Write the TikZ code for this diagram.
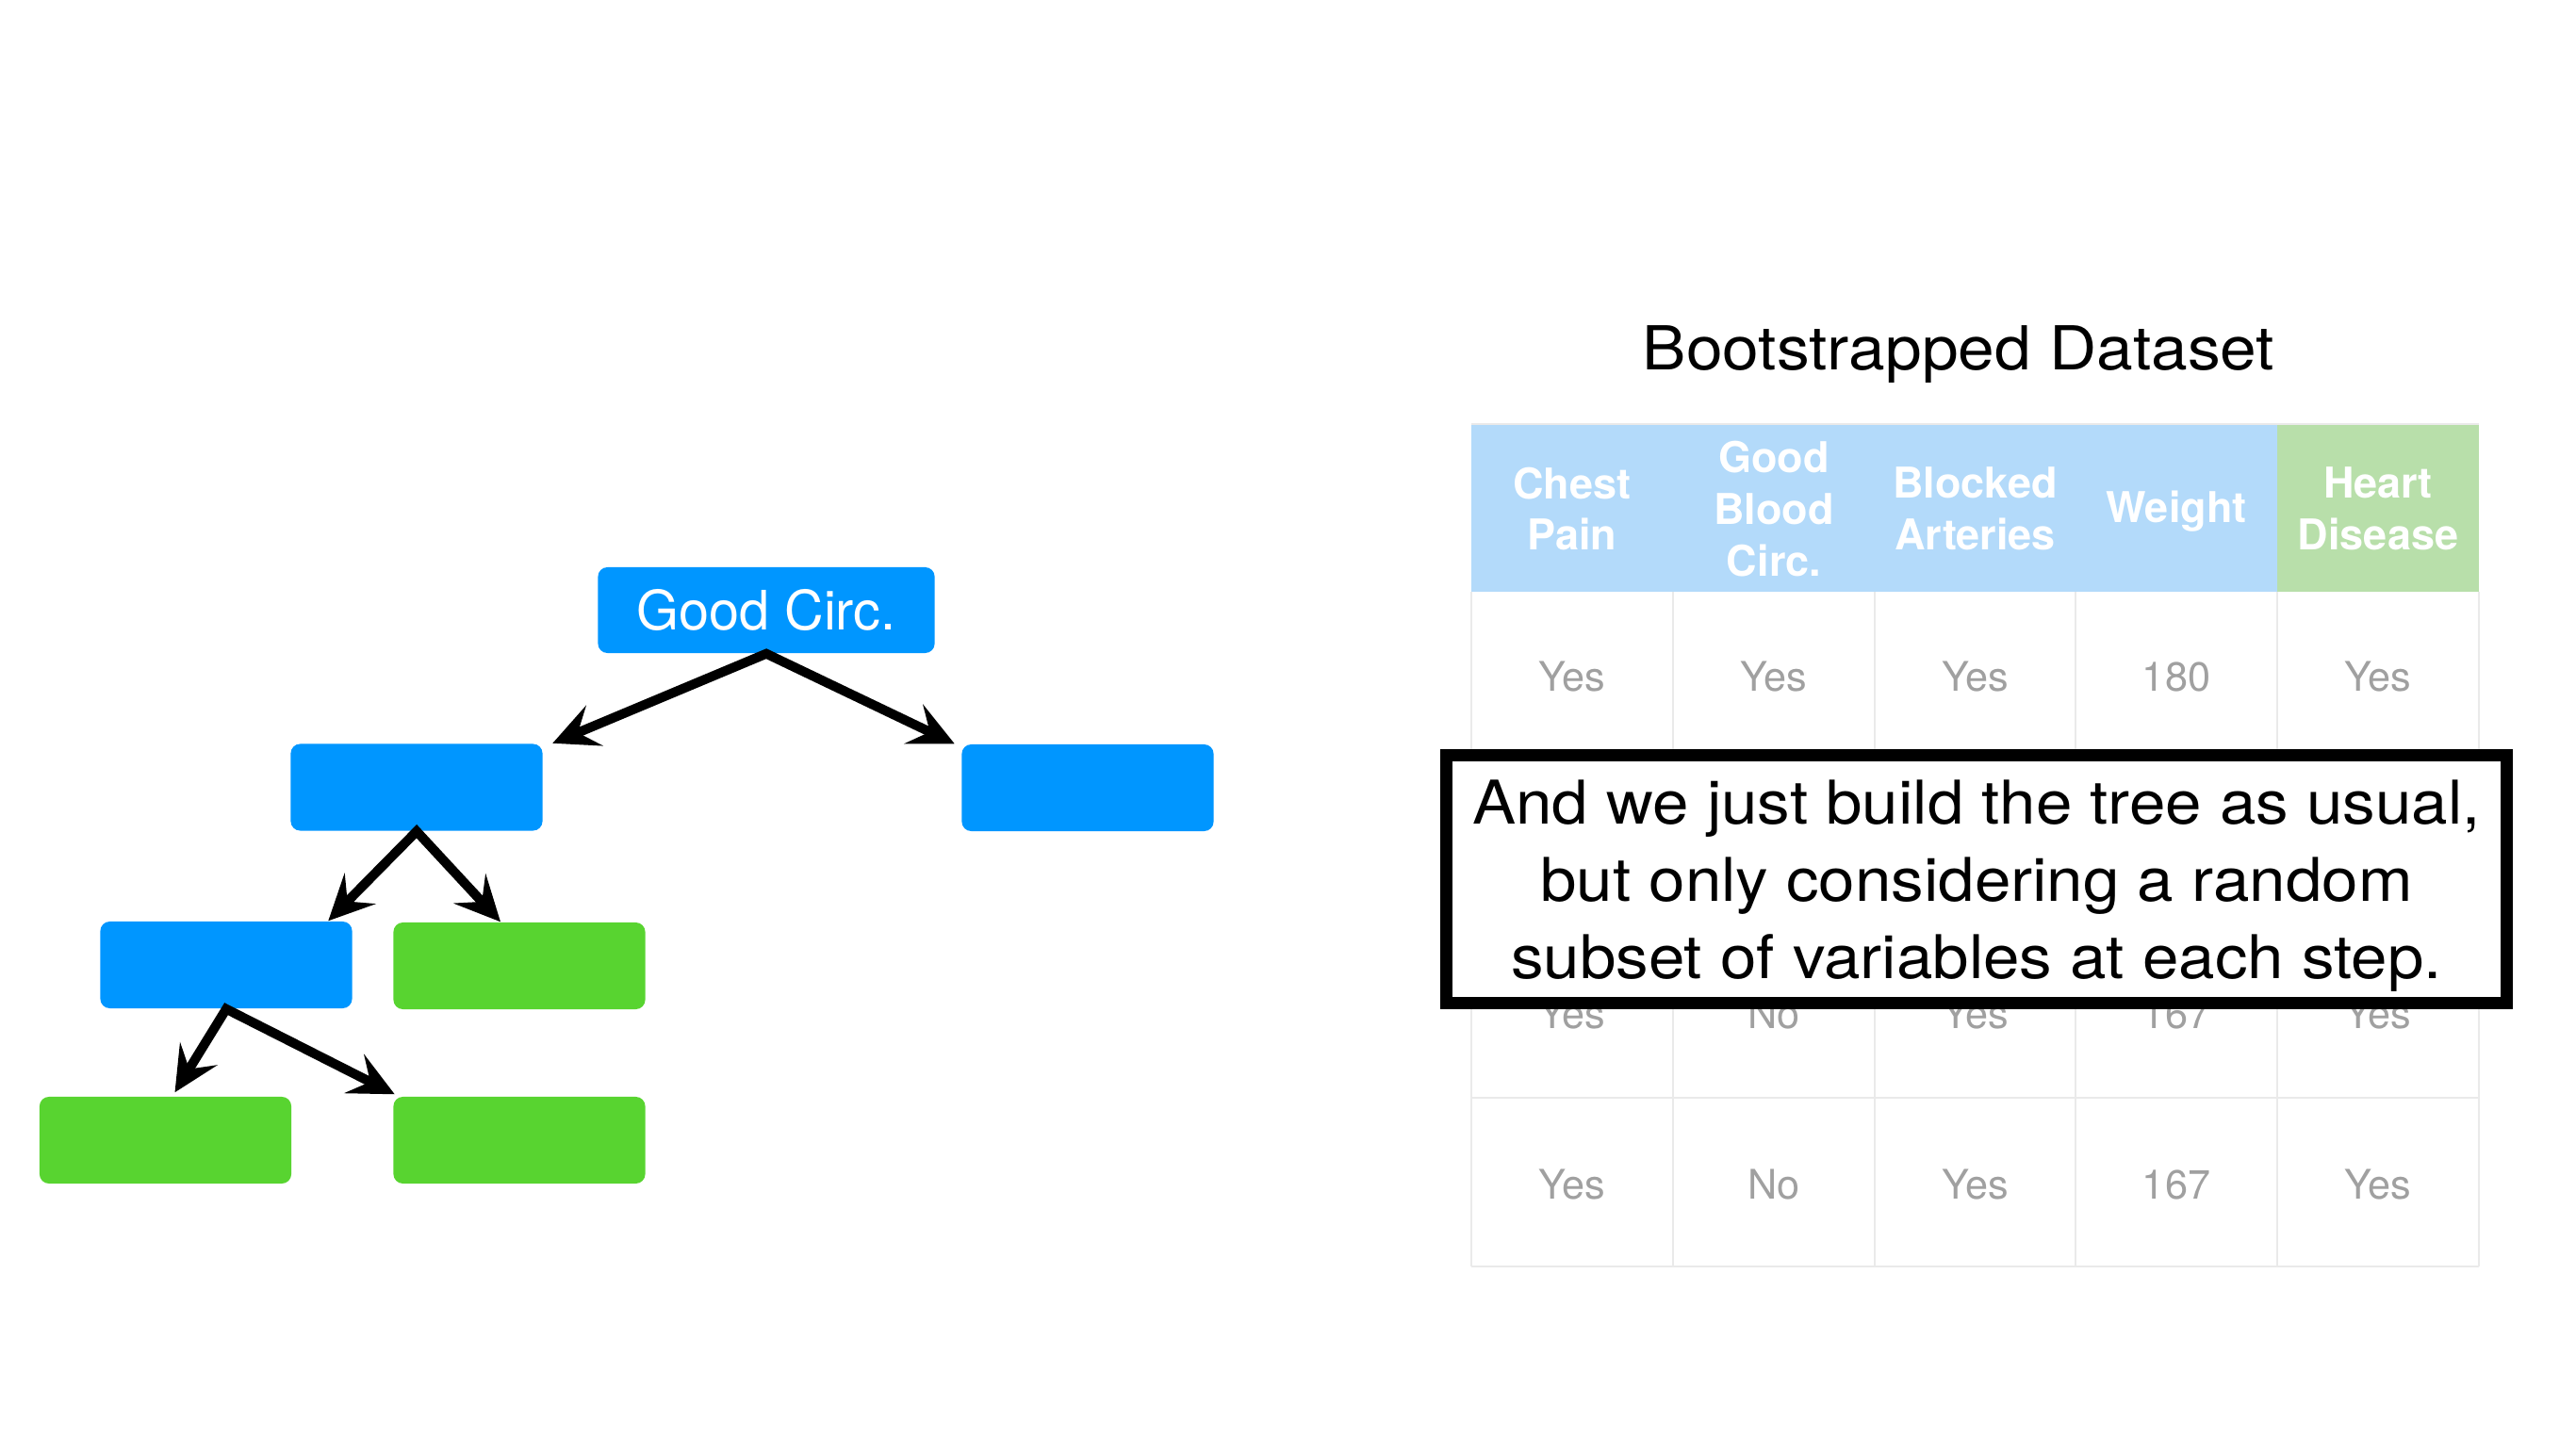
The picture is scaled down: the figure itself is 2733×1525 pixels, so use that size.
\documentclass[tikz,border=0pt]{standalone}
\usepackage{fontspec}
\setmainfont{TeX Gyre Heros}
\newfontfamily\widefont[FakeStretch=1.08]{TeX Gyre Heros}
\usetikzlibrary{arrows.meta}
\definecolor{nodeblue}{RGB}{0,150,255}
\definecolor{nodegreen}{RGB}{88,212,48}
\definecolor{hdrblue}{RGB}{179,218,250}
\definecolor{hdrgreen}{RGB}{184,223,170}
\definecolor{cellgray}{RGB}{160,160,160}
\definecolor{gridgray}{RGB}{234,234,234}
\tikzset{
  treebox/.style={rectangle, rounded corners=0.1cm, inner sep=0pt, minimum width=2.67cm, minimum height=0.92cm},
  bluebox/.style={treebox, fill=nodeblue},
  greenbox/.style={treebox, fill=nodegreen},
  treetip/.tip={Stealth[length=0.48cm, width=0.46cm, inset=0.19cm]},
  arr/.style={line width=0.1cm, line join=miter, black, treetip-treetip},
  hdr/.style={text=white, align=center, inner sep=0pt, font=\fontsize{12.8}{15.6}\selectfont\bfseries},
  cell/.style={text=cellgray, inner sep=0pt, font=\fontsize{12.3}{14}\selectfont},
  gridline/.style={draw=gridgray, line width=0.6pt},
}
\begin{document}
\begin{tikzpicture}[x=0.01cm, y=-0.01cm]
\useasboundingbox (0,0) rectangle (2733,1525);
\fill[white] (0,0) rectangle (2733,1525);

% ---- tree ----
\node[bluebox, minimum width=3.57cm, minimum height=0.91cm, text=white, font=\fontsize{16.4}{19}\selectfont] (root) at (813,647.5) {Good Circ.};
\node[bluebox] (l1l) at (442,835.5) {};
\node[bluebox] (l1r) at (1154,836) {};
\node[bluebox] (l2l) at (240,1024) {};
\node[greenbox] (l2r) at (551,1025) {};
\node[greenbox] (l3l) at (175.5,1210) {};
\node[greenbox] (l3r) at (551,1210) {};

\draw[arr] ([xshift=0.10cm]l1l.north east) -- (root.south) -- ([xshift=-0.07cm]l1r.north west);
\draw[arr] ([xshift=-0.26cm]l2l.north east) -- (l1l.south) -- ([xshift=-0.20cm]l2r.north);
\draw[arr] ([xshift=0.10cm, yshift=0.04cm]l3l.north) -- (l2l.south) -- ([xshift=0.02cm, yshift=0.02cm]l3r.north west);

% ---- table ----
\node[anchor=base, inner sep=0pt, font=\widefont\fontsize{18.3}{22}\selectfont] (title) at (2078,393) {Bootstrapped Dataset};

\fill[hdrblue] (1561,450) rectangle (2416,628);
\fill[hdrgreen] (2416,450) rectangle (2630,628);
\draw[gridline] (1561,450) -- (2630,450);
\foreach \x in {1561,1775,1989,2202,2416,2630}
  \draw[gridline] (\x,628) -- (\x,1344);
\foreach \y in {807,986,1165,1344}
  \draw[gridline] (1561,\y) -- (2630,\y);

\node[hdr] (h1) at (1668,540) {Chest\\Pain};
\node[hdr] (h2) at (1882,540) {Good\\Blood\\Circ.};
\node[hdr] (h3) at (2095.5,540) {Blocked\\Arteries};
\node[hdr] (h4) at (2309,543) {Weight};
\node[hdr] (h5) at (2523,540) {Heart\\Disease};

\node[cell] (r1c1) at (1668,718) {Yes};
\node[cell] (r1c2) at (1882,718) {Yes};
\node[cell] (r1c3) at (2095.5,718) {Yes};
\node[cell] (r1c4) at (2309,718) {180};
\node[cell] (r1c5) at (2523,718) {Yes};

\node[cell] (r3c1) at (1668,1076) {Yes};
\node[cell] (r3c2) at (1882,1076) {No};
\node[cell] (r3c3) at (2095.5,1076) {Yes};
\node[cell] (r3c4) at (2309,1076) {167};
\node[cell] (r3c5) at (2523,1076) {Yes};

\node[cell] (r4c1) at (1668,1257) {Yes};
\node[cell] (r4c2) at (1882,1257) {No};
\node[cell] (r4c3) at (2095.5,1257) {Yes};
\node[cell] (r4c4) at (2309,1257) {167};
\node[cell] (r4c5) at (2523,1257) {Yes};

% ---- caption box ----
\node[draw=black, fill=white, line width=0.13cm, minimum width=11.24cm, minimum height=2.62cm, inner sep=0pt] (note) at (2097,933) {};
\node[inner sep=0pt, align=center, font=\widefont\fontsize{18.2}{23.25}\selectfont] (notetext) at (2097,940)
  {And we just build the tree as usual,\\but only considering a random\\subset of variables at each step.};
\end{tikzpicture}
\end{document}
